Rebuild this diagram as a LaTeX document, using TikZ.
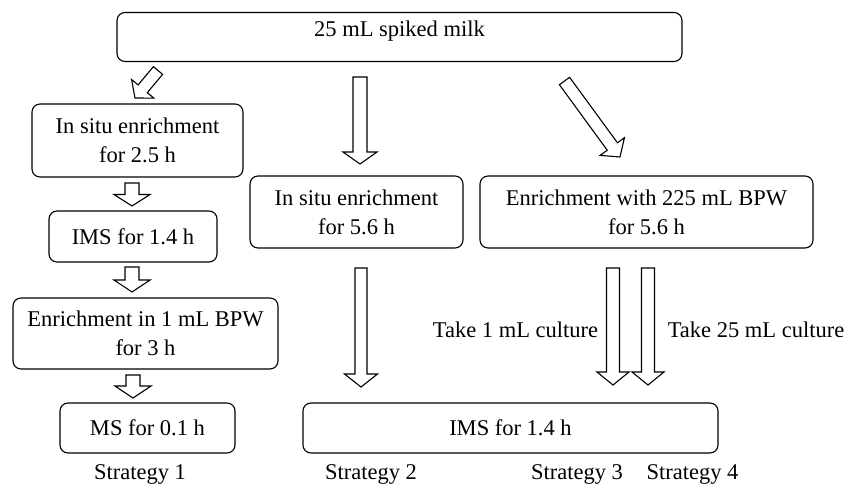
\documentclass[tikz,border=0pt]{standalone}
\usepackage{fontspec}
\setmainfont{Liberation Serif}
\usetikzlibrary{calc}
\tikzset{
  box/.style={draw, line width=1.1pt, rounded corners=8pt, inner sep=0pt, align=center, font=\fontsize{22.5}{29}\selectfont},
  lbl/.style={inner sep=0pt, font=\fontsize{22.5}{29}\selectfont},
  blockarr/.style={draw, fill=white, line width=1.1pt, line join=miter}
}
\newcommand{\blockarrow}[5]{%
  \path ($(#2)!#5pt!(#1)$) coordinate (hb);
  \draw[blockarr] ($(#1)!#3pt!90:(#2)$) -- ($(hb)!#3pt!-90:(#1)$) -- ($(hb)!#4pt!-90:(#1)$) -- (#2)
     -- ($(hb)!#4pt!90:(#1)$) -- ($(hb)!#3pt!90:(#1)$) -- ($(#1)!#3pt!-90:(#2)$) -- cycle;
}
\begin{document}
\begin{tikzpicture}[x=1pt,y=-1pt]
\useasboundingbox (0,0) rectangle (857,488);
% boxes
\node[box, minimum width=565pt, text height=24pt, text depth=25pt] (top) at (399.5,37) {25 mL spiked milk};
\node[box, minimum width=211pt, minimum height=73pt] (a1) at (137.5,140.5) {In situ enrichment\\for 2.5 h};
\node[box, minimum width=168pt, minimum height=51pt] (a2) at (133,236.5) {IMS for 1.4 h};
\node[box, minimum width=265pt, minimum height=71pt] (a3) at (145.5,333.5) {Enrichment in 1 mL BPW\\for 3 h};
\node[box, minimum width=175pt, minimum height=50pt] (a4) at (147.5,428) {MS for 0.1 h};
\node[box, minimum width=213pt, minimum height=72pt] (b1) at (356.5,212) {In situ enrichment\\for 5.6 h};
\node[box, minimum width=333pt, minimum height=72pt] (c1) at (646.5,212) {Enrichment with 225 mL BPW\\for 5.6 h};
\node[box, minimum width=415pt, minimum height=50pt] (ims) at (510.5,428) {IMS for 1.4 h};
% labels
\node[lbl] (s1) at (140,474) {Strategy 1};
\node[lbl] (s2) at (371,474) {Strategy 2};
\node[lbl] (s3) at (577,474) {Strategy 3};
\node[lbl] (s4) at (692.5,474) {Strategy 4};
\node[lbl] (t1) at (515.5,330) {Take 1 mL culture};
\node[lbl] (t2) at (756,330) {Take 25 mL culture};
% arrow end points
\coordinate (d1s) at (158,70.5);  \coordinate (d1e) at (135,98);
\coordinate (v1s) at (360,77);    \coordinate (v1e) at (360,164);
\coordinate (d2s) at (564.5,81);  \coordinate (d2e) at (620,157);
\coordinate (a12s) at (132,183);  \coordinate (a12e) at (132,206);
\coordinate (a23s) at (132,267);  \coordinate (a23e) at (132,292);
\coordinate (a34s) at (133,375);  \coordinate (a34e) at (133,398);
\coordinate (vbs) at (361,268);   \coordinate (vbe) at (361,387);
\coordinate (vc1s) at (613,268);  \coordinate (vc1e) at (613,385);
\coordinate (vc2s) at (648,268);  \coordinate (vc2e) at (648,385);
% arrows
\blockarrow{d1s}{d1e}{6}{14.5}{12}
\blockarrow{v1s}{v1e}{7}{17}{12}
\blockarrow{d2s}{d2e}{6.3}{15}{13}
\blockarrow{a12s}{a12e}{7}{18}{11.5}
\blockarrow{a23s}{a23e}{7}{18}{12}
\blockarrow{a34s}{a34e}{7}{18}{12}
\blockarrow{vbs}{vbe}{6}{16.5}{13}
\blockarrow{vc1s}{vc1e}{6.5}{16}{13}
\blockarrow{vc2s}{vc2e}{6.5}{16}{13}
\end{tikzpicture}
\end{document}
